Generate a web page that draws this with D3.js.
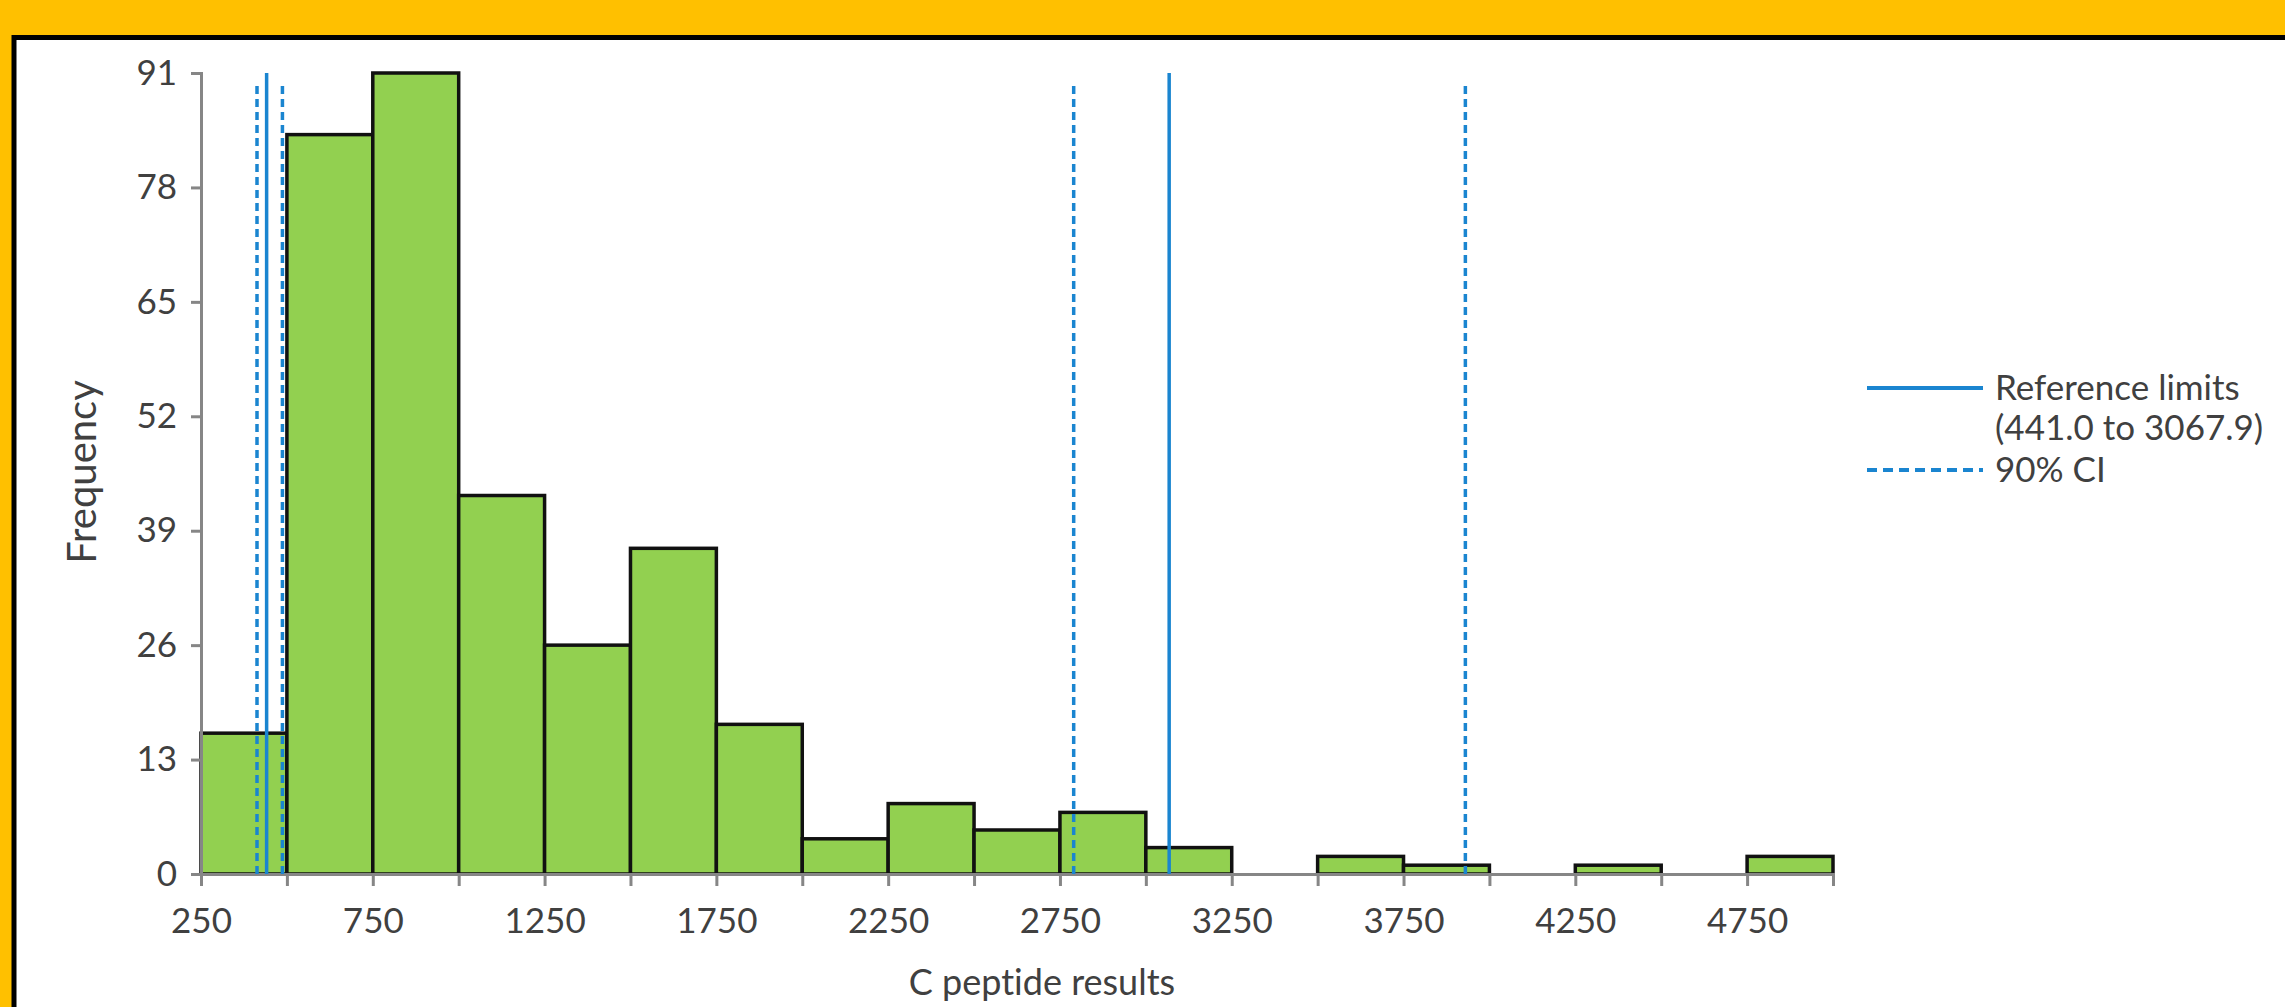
<!DOCTYPE html>
<html>
<head>
<meta charset="utf-8">
<script src="https://cdn.jsdelivr.net/npm/d3@7"></script>
<style>
  body { margin: 0; padding: 0; background: #FFC000; }
  svg { display: block; }
  text { font-family: Lato, "Open Sans", sans-serif; fill: #404040; font-variant-ligatures: none; }
</style>
</head>
<body>
<div id="vizDiv"></div>
<script>
var width = 2285;
var height = 1007;

// histogram bins (lower edge, width 250) and counts
var binStarts = [250, 500, 750, 1000, 1250, 1500, 1750, 2000, 2250, 2500, 2750, 3000, 3250, 3500, 3750, 4000, 4250, 4500, 4750];
var binCounts = [16, 84, 91, 43, 26, 37, 17, 4, 8, 5, 7, 3, 0, 2, 1, 0, 1, 0, 2];
var binWidth = 250;

var xTickValues = [250, 500, 750, 1000, 1250, 1500, 1750, 2000, 2250, 2500, 2750, 3000, 3250, 3500, 3750, 4000, 4250, 4500, 4750, 5000];
var xTickLabels = [250, 750, 1250, 1750, 2250, 2750, 3250, 3750, 4250, 4750];
var yTickValues = [0, 13, 26, 39, 52, 65, 78, 91];

// reference limits and their 90% confidence intervals
var refLimits = [441.0, 3067.9];
var ciLimits = [413, 487, 2790, 3930];
var refLineTop = 91;
var ciLineTop = 90;

var legendLabels = [["Reference limits", "(441.0 to 3067.9)"], ["90% CI"]];

var blue = "#1a85d0";

var svg = d3.select("#vizDiv")
  .append("svg")
  .attr("width", width)
  .attr("height", height);

// yellow frame with black border, white chart area
svg.append("rect")
  .attr("x", 0).attr("y", 0)
  .attr("width", width).attr("height", height)
  .attr("fill", "#FFC000");

svg.append("rect")
  .attr("x", 14).attr("y", 37.5)
  .attr("width", width + 20).attr("height", height + 20)
  .attr("fill", "white")
  .attr("stroke", "black")
  .attr("stroke-width", 5);

var x = d3.scaleLinear().domain([250, 5000]).range([201, 1833]);
var y = d3.scaleLinear().domain([0, 91]).range([874, 73]);

// bars
svg.selectAll(".bar")
  .data(binStarts)
  .enter()
  .append("rect")
  .attr("class", "bar")
  .attr("x", function(d) { return x(d); })
  .attr("y", function(d, i) { return y(binCounts[i]); })
  .attr("width", function(d) { return x(d + binWidth) - x(d); })
  .attr("height", function(d, i) { return y(0) - y(binCounts[i]); })
  .attr("fill", "#92D050")
  .attr("stroke", function(d, i) { return binCounts[i] > 0 ? "#111" : "none"; })
  .attr("stroke-width", 3.5);

// y axis
var yAxis = svg.append("g")
  .attr("transform", "translate(" + x(250) + ",0)")
  .call(d3.axisLeft(y).tickValues(yTickValues).tickSize(10).tickPadding(14));

// x axis
var xAxis = svg.append("g")
  .attr("transform", "translate(0," + y(0) + ")")
  .call(d3.axisBottom(x).tickValues(xTickValues).tickSize(12).tickPadding(22)
    .tickFormat(function(d) { return xTickLabels.indexOf(d) >= 0 ? d : ""; }));

svg.selectAll(".domain, .tick line")
  .attr("stroke", "#868686")
  .attr("stroke-width", 3);

svg.selectAll(".tick text")
  .style("font-size", "35px")
  .attr("fill", "#404040");

// reference limit lines
svg.selectAll(".ciLine")
  .data(ciLimits)
  .enter()
  .append("line")
  .attr("class", "ciLine")
  .attr("x1", function(d) { return x(d); })
  .attr("x2", function(d) { return x(d); })
  .attr("y1", y(0))
  .attr("y2", y(ciLineTop))
  .attr("stroke", blue)
  .attr("stroke-width", 3.5)
  .attr("stroke-dasharray", "8,5");

svg.selectAll(".refLine")
  .data(refLimits)
  .enter()
  .append("line")
  .attr("class", "refLine")
  .attr("x1", function(d) { return x(d); })
  .attr("x2", function(d) { return x(d); })
  .attr("y1", y(0))
  .attr("y2", y(refLineTop))
  .attr("stroke", blue)
  .attr("stroke-width", 3.5);

// axis titles
svg.append("text")
  .attr("transform", "translate(96,472) rotate(-90)")
  .attr("text-anchor", "middle")
  .style("font-size", "40px")
  .attr("fill", "#000")
  .text("Frequency");

svg.append("text")
  .attr("x", 1042)
  .attr("y", 995)
  .attr("text-anchor", "middle")
  .style("font-size", "36px")
  .attr("fill", "#000")
  .text("C peptide results");

// legend
var legendRows = [388, 470];
legendLabels.forEach(function(lines, i) {
  svg.append("line")
    .attr("x1", 1867).attr("x2", 1983)
    .attr("y1", legendRows[i]).attr("y2", legendRows[i])
    .attr("stroke", blue)
    .attr("stroke-width", 4)
    .attr("stroke-dasharray", i == 1 ? "10,6" : null);

  lines.forEach(function(t, j) {
    svg.append("text")
      .attr("x", 1995)
      .attr("y", legendRows[i] + 12 + j * 40)
      .style("font-size", "35px")
      .attr("fill", "#404040")
      .text(t);
  });
});
</script>
</body>
</html>
